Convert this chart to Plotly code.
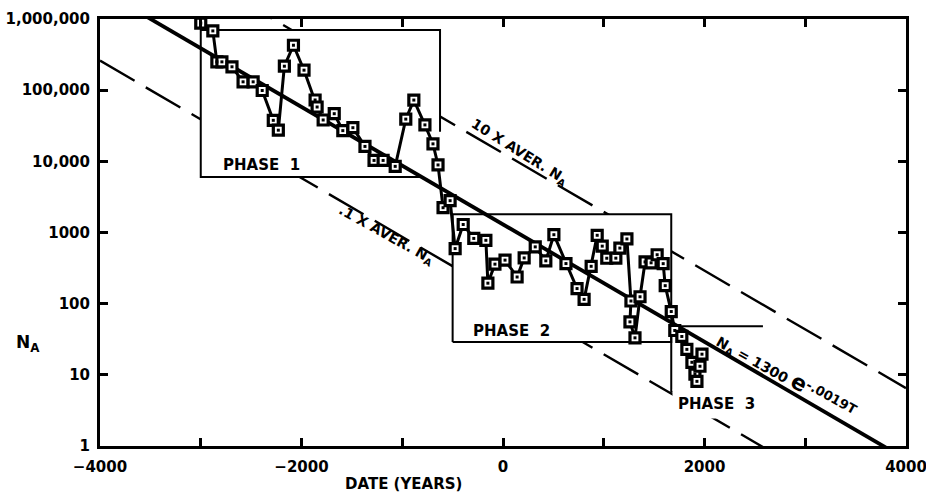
import numpy as np
import plotly.graph_objects as go

# ---------------- data ----------------
YEARS = [-3000, -2880, -2840, -2790, -2690, -2580, -2480, -2390, -2280, -2230,
         -2170, -2080, -1975, -1865, -1845, -1785, -1675, -1590, -1490, -1370,
         -1280, -1190, -1070, -965, -885, -775, -695, -645, -595, -525,
         -475, -395, -290, -170, -150, -80, 20, 140, 210, 320,
         425, 505, 625, 735, 805, 875, 935, 985, 1030, 1120,
         1160, 1230, 1270, 1260, 1310, 1360, 1410, 1470, 1530, 1590,
         1610, 1670,
         1705, 1775, 1825, 1875, 1905, 1925, 1955, 1975]
N_A = [875000, 680000, 250000, 250000, 213000, 131000, 131000, 99000, 37700, 27400,
       217000, 428000, 191000, 72800, 58000, 38100, 46700, 27000, 29700, 16200,
       10300, 10300, 8500, 39200, 72600, 32500, 17600, 8900, 2230, 2800,
       594, 1295, 826, 777, 194, 359, 409, 237, 439, 628,
       400, 931, 366, 163, 115, 335, 914, 643, 435, 436,
       604, 811, 109, 55.5, 33.1, 125, 386, 375, 487, 365,
       179, 77.5,
       42, 34.6, 22.8, 15, 10.2, 8.1, 13.2, 19.5]

# fitted law printed on the chart: N_A = 1300 e^(-.0019 T)
FIT_A = 1300
FIT_K = 0.0019
FIT_T = [-4000, 4000]
BAND_FACTORS = [10, 0.1]   # "10 X AVER. N_A" and ".1 X AVER. N_A"

# phase boxes (year, N) outlines
PHASE1_T = [-824, -3000, -3000, -625, -625]
PHASE1_N = [6000, 6000, 700000, 700000, 26000]
PHASE2_T = [-500, -500, 1670, 1670, -500]
PHASE2_N = [29, 1800, 1800, 29, 29]
PHASE3_T = [2580, 1670, 1670, 2550]
PHASE3_N = [48, 48, 5.8, 5.8]

X_TICKS = [-4000, -3000, -2000, -1000, 0, 1000, 2000, 3000, 4000]
X_TEXT = ["\u22124000", " ", "\u22122000", " ", "0", " ", "2000", " ", "4000"]
Y_TICKS = [1, 10, 100, 1000, 10000, 100000, 1000000]
Y_TEXT = ["1", "10", "100", "1000", "10,000", "100,000", "1,000,000"]

FONT = "DejaVu Sans"

fit_t = np.array(FIT_T, dtype=float)
fit_n = FIT_A * np.exp(-FIT_K * fit_t)

fig = go.Figure()

# dashed band lines
for f in BAND_FACTORS:
    fig.add_trace(go.Scatter(x=fit_t, y=f * fit_n, mode="lines",
                             line=dict(color="black", width=2.4, dash="40px,13px"),
                             hoverinfo="skip"))

# white-filled phase boxes (hide the dashed lines inside)
for bt, bn in [(PHASE1_T, PHASE1_N), (PHASE2_T, PHASE2_N)]:
    xs = [min(bt), max(bt), max(bt), min(bt), min(bt)]
    ys = [min(bn), min(bn), max(bn), max(bn), min(bn)]
    fig.add_trace(go.Scatter(x=xs, y=ys, mode="lines", fill="toself",
                             fillcolor="white", line=dict(width=0),
                             hoverinfo="skip"))
for bt, bn in [(PHASE1_T, PHASE1_N), (PHASE2_T, PHASE2_N), (PHASE3_T, PHASE3_N)]:
    fig.add_trace(go.Scatter(x=bt, y=bn, mode="lines",
                             line=dict(color="black", width=2),
                             hoverinfo="skip"))

# fitted line
fig.add_trace(go.Scatter(x=fit_t, y=fit_n, mode="lines",
                         line=dict(color="black", width=3.8), hoverinfo="skip"))

# observations
fig.add_trace(go.Scatter(x=YEARS, y=N_A, mode="lines+markers",
                         line=dict(color="black", width=3),
                         marker=dict(symbol="square", size=10, color="white",
                                     line=dict(color="black", width=3.2))))
fig.add_trace(go.Scatter(x=YEARS, y=N_A, mode="markers",
                         marker=dict(symbol="square", size=3, color="black",
                                     line=dict(width=0)),
                         hoverinfo="skip"))

bold = dict(family=FONT, size=14, color="black", weight="bold")
anns = [
    dict(x=159, y=4.131, text="10 X AVER. N<sub>A</sub>", textangle=32, font=bold),
    dict(x=-1161, y=2.961, text=".1 X AVER. N<sub>A</sub>", textangle=29, font=bold),
    dict(x=2810, y=0.99,
         text="N<sub>A</sub> = 1300 <span style='font-size:22px'>e</span>"
              "<sup><span style='font-size:13px'>-.0019T</span></sup>",
         textangle=29, font=bold),
    dict(x=-2402, y=3.942, text="PHASE\u00a0\u00a01", font=dict(bold, size=15)),
    dict(x=89, y=1.615, text="PHASE\u00a0\u00a02", font=dict(bold, size=15)),
    dict(x=2124, y=0.588, text="PHASE\u00a0\u00a03", font=dict(bold, size=15),
         bgcolor="white", borderpad=5),
    dict(x=-0.089, y=0.239, xref="paper", yref="paper",
         text="N<sub>A</sub>", font=dict(bold, size=17)),
    dict(x=0.377, y=-0.089, xref="paper", yref="paper",
         text="DATE (YEARS)", font=dict(bold, size=15)),
]
for a in anns:
    a.setdefault("xref", "x")
    a.setdefault("yref", "y")
    a["showarrow"] = False
    a["xanchor"] = "center"
    a["yanchor"] = "middle"
    fig.add_annotation(**a)

axis_common = dict(showgrid=False, zeroline=False, showline=True, linewidth=3,
                   linecolor="black", mirror="ticks", ticks="inside", ticklen=8,
                   tickwidth=2.5, tickcolor="black", ticklabeloverflow="allow",
                   automargin=False,
                   tickfont=dict(family=FONT, size=15, color="black", weight="bold"))

fig.update_xaxes(range=[-4000, 4000], tickmode="array", tickvals=X_TICKS,
                 ticktext=X_TEXT, ticklabelstandoff=5, **axis_common)
fig.update_yaxes(type="log", range=[0, 6], tickmode="array", tickvals=Y_TICKS,
                 ticktext=Y_TEXT, ticklabelstandoff=4, **axis_common)

fig.update_layout(width=926, height=495, showlegend=False,
                  margin=dict(l=100, r=20, t=19, b=49, autoexpand=False),
                  plot_bgcolor="white", paper_bgcolor="white")

fig.write_html("out.html",
               config={"displayModeBar": False},
               post_script="document.body.style.margin='0px';"
                           "document.body.style.overflow='hidden';")
